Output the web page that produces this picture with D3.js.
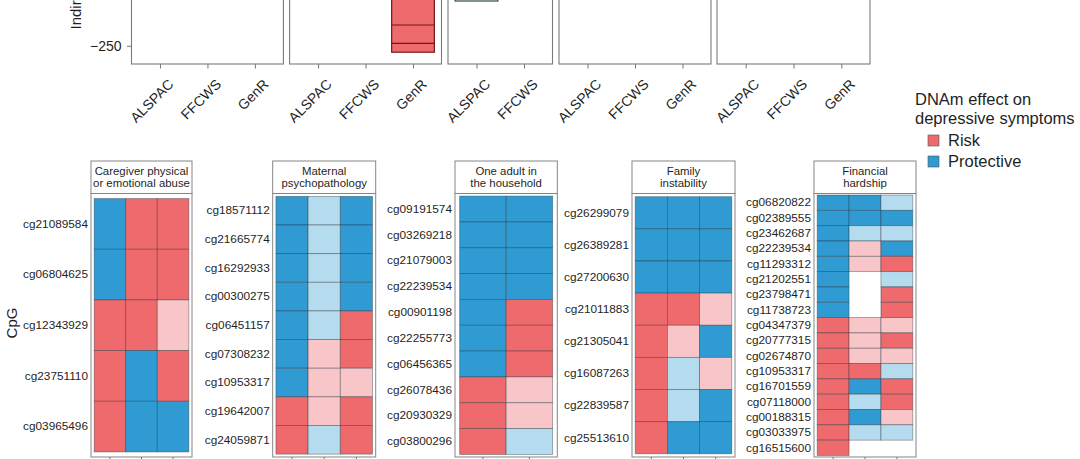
<!DOCTYPE html>
<html>
<head>
<meta charset="utf-8">
<script src="https://cdn.jsdelivr.net/npm/d3@7"></script>
<style>
body { margin: 0; background: #fff; }
svg { display: block; }
text { font-family: "Liberation Sans", Arial, sans-serif; fill: #1f1f1f; }
.tick line { stroke: #777; }
</style>
</head>
<body>
<script>
// cohorts and facets
var cohorts = ["ALSPAC", "FFCWS", "GenR"];
var topFacetCohorts = [cohorts, cohorts, ["ALSPAC", "FFCWS"], cohorts, cohorts];

// boxplot pieces still visible at the top edge (indirect effect)
var boxFacet = [1, 2];
var boxCohort = ["GenR", "ALSPAC"];
var boxLow = [-266, -138];
var boxHigh = [-90, -30];
var boxInner = [[-198, -244], []];
var boxType = ["R", "N"];

// heatmap facets: R = risk, r = risk (n.s.), P = protective, p = protective (n.s.), - = missing
var stripTitles = [
  ["Caregiver physical", "or emotional abuse"],
  ["Maternal", "psychopathology"],
  ["One adult in", "the household"],
  ["Family", "instability"],
  ["Financial", "hardship"]
];
var heatCohorts = [cohorts, cohorts, ["ALSPAC", "FFCWS"], cohorts, cohorts];

var abuseCpGs = ["cg21089584", "cg06804625", "cg12343929", "cg23751110", "cg03965496"];
var abuseEffects = ["PRR", "PRR", "RRr", "RPR", "RPP"];

var maternalCpGs = ["cg18571112", "cg21665774", "cg16292933", "cg00300275", "cg06451157",
  "cg07308232", "cg10953317", "cg19642007", "cg24059871"];
var maternalEffects = ["PpP", "PpP", "PpP", "PpP", "PpR", "PrR", "Prr", "RrR", "RpR"];

var oneAdultCpGs = ["cg09191574", "cg03269218", "cg21079003", "cg22239534", "cg00901198",
  "cg22255773", "cg06456365", "cg26078436", "cg20930329", "cg03800296"];
var oneAdultEffects = ["PP", "PP", "PP", "PP", "PR", "PR", "PR", "Rr", "Rr", "Rp"];

var familyCpGs = ["cg26299079", "cg26389281", "cg27200630", "cg21011883", "cg21305041",
  "cg16087263", "cg22839587", "cg25513610"];
var familyEffects = ["PPP", "PPP", "PPP", "RRr", "RrP", "Rpr", "RpP", "RPP"];

var financialCpGs = ["cg06820822", "cg02389555", "cg23462687", "cg22239534", "cg11293312",
  "cg21202551", "cg23798471", "cg11738723", "cg04347379", "cg20777315", "cg02674870",
  "cg10953317", "cg16701559", "cg07118000", "cg00188315", "cg03033975", "cg16515600"];
var financialEffects = ["PPp", "PPP", "Ppp", "PrP", "PrR", "P-p", "P-R", "P-R", "Rrr", "RrR",
  "Rrr", "RRp", "RPR", "RpR", "RPr", "Rpp", "R--"];

var legendLabels = ["Risk", "Protective"];
var legendCodes = ["R", "P"];

var facetCpGs = [abuseCpGs, maternalCpGs, oneAdultCpGs, familyCpGs, financialCpGs];
var facetEffects = [abuseEffects, maternalEffects, oneAdultEffects, familyEffects, financialEffects];

var fill = d3.scaleOrdinal()
  .domain(["R", "r", "P", "p", "N"])
  .range(["#ee6a6c", "#f8c5c8", "#2f9bd2", "#b5dbee", "#ffffff"]);

var width = 1080, height = 459;

var svg = d3.select("body").append("svg")
  .attr("width", width)
  .attr("height", height);

// ---------- top row: boxplot facets (cut off) ----------
var topRanges = [[131.5, 283.4], [289.6, 441.5], [448, 552.5], [559, 711], [717, 870]];
var topBottom = 64;

var yTop = d3.scaleLinear()
  .domain([-250, 0])
  .range([45.8, -54.2]);

topRanges.forEach(function(r, i) {
  var x = d3.scalePoint()
    .domain(topFacetCohorts[i])
    .range(r)
    .padding(0.6);

  var g = svg.append("g");

  // boxes in this facet
  boxFacet.forEach(function(f, j) {
    if (f !== i) return;
    var bw = x.step() * 0.9;
    var cx = x(boxCohort[j]);
    var dark = boxType[j] === "R" ? "#6e1a1a" : "#2f4a4a";
    g.append("rect")
      .attr("x", cx - bw / 2)
      .attr("width", bw)
      .attr("y", yTop(boxHigh[j]))
      .attr("height", yTop(boxLow[j]) - yTop(boxHigh[j]))
      .attr("fill", fill(boxType[j]))
      .attr("stroke", dark)
      .attr("stroke-width", 1.2);
    boxInner[j].forEach(function(v) {
      g.append("line")
        .attr("x1", cx - bw / 2).attr("x2", cx + bw / 2)
        .attr("y1", yTop(v)).attr("y2", yTop(v))
        .attr("stroke", dark)
        .attr("stroke-width", 1.2);
    });
  });

  g.append("rect")
    .attr("x", r[0])
    .attr("y", -10)
    .attr("width", r[1] - r[0])
    .attr("height", topBottom + 10)
    .attr("fill", "none")
    .attr("stroke", "#7a7a7a")
    .attr("stroke-width", 1.1);

  var ax = g.append("g")
    .attr("transform", "translate(0," + topBottom + ")")
    .call(d3.axisBottom(x).tickSize(4.5));
  ax.select(".domain").remove();
  ax.selectAll("text")
    .attr("y", 0)
    .attr("font-size", 14)
    .attr("text-anchor", "end")
    .attr("transform", "translate(7,14) rotate(-45)");

  if (i === 0) {
    var ay = g.append("g")
      .attr("transform", "translate(" + r[0] + ",0)")
      .call(d3.axisLeft(yTop).tickValues([-250]).tickSize(4.5).tickPadding(5.5));
    ay.select(".domain").remove();
    ay.selectAll("text").attr("font-size", 14);
  }
});

svg.append("text")
  .attr("transform", "translate(81,29.5) rotate(-90)")
  .attr("font-size", 15)
  .text("Indirect effect");

// ---------- legend ----------
var legend = svg.append("g").attr("transform", "translate(915,0)");
legend.append("text").attr("y", 105).attr("font-size", 16.5).text("DNAm effect on");
legend.append("text").attr("y", 123.5).attr("font-size", 16.5).text("depressive symptoms");
legendLabels.forEach(function(lab, i) {
  legend.append("rect")
    .attr("x", 13).attr("y", 135 + i * 21)
    .attr("width", 11).attr("height", 11)
    .attr("fill", fill(legendCodes[i]))
    .attr("stroke", "#555")
    .attr("stroke-width", 0.6);
  legend.append("text")
    .attr("x", 33).attr("y", 145.5 + i * 21)
    .attr("font-size", 16.5)
    .text(lab);
});

// ---------- bottom row: heatmap facets ----------
var heatRanges = [[91, 192], [272.7, 375.7], [455, 557.3], [632, 735], [814, 916]];
var stripTop = 161, panelTop = 193.5, panelBottom = 457;

heatRanges.forEach(function(r, i) {
  var cpgs = facetCpGs[i];
  var eff = facetEffects[i];

  var x = d3.scaleBand()
    .domain(heatCohorts[i])
    .range(r)
    .paddingInner(0)
    .paddingOuter(0.1);
  var y = d3.scaleBand()
    .domain(cpgs)
    .range([panelTop, panelBottom])
    .paddingInner(0)
    .paddingOuter(0.1);

  var cells = [];
  cpgs.forEach(function(c, ri) {
    heatCohorts[i].forEach(function(k, ci) {
      var code = eff[ri].charAt(ci);
      if (code !== "-") cells.push({cpg: c, cohort: k, code: code});
    });
  });

  var g = svg.append("g");

  g.selectAll(".cell")
    .data(cells)
    .enter().append("rect")
    .attr("class", "cell")
    .attr("x", function(d) { return x(d.cohort); })
    .attr("y", function(d) { return y(d.cpg); })
    .attr("width", x.bandwidth())
    .attr("height", y.bandwidth())
    .attr("fill", function(d) { return fill(d.code); })
    .attr("stroke", "#1e2a33")
    .attr("stroke-opacity", 0.45)
    .attr("stroke-width", 0.8);

  // panel border
  g.append("rect")
    .attr("x", r[0]).attr("y", panelTop)
    .attr("width", r[1] - r[0]).attr("height", panelBottom - panelTop)
    .attr("fill", "none")
    .attr("stroke", "#858585")
    .attr("stroke-width", 1);

  // strip
  g.append("rect")
    .attr("x", r[0]).attr("y", stripTop)
    .attr("width", r[1] - r[0]).attr("height", panelTop - stripTop)
    .attr("fill", "#fff")
    .attr("stroke", "#858585")
    .attr("stroke-width", 1);
  stripTitles[i].forEach(function(line, li) {
    g.append("text")
      .attr("x", (r[0] + r[1]) / 2)
      .attr("y", 175 + li * 12)
      .attr("text-anchor", "middle")
      .attr("font-size", 11.4)
      .text(line);
  });

  var ay = g.append("g")
    .attr("transform", "translate(" + r[0] + ",0)")
    .call(d3.axisLeft(y).tickSize(0).tickPadding(3));
  ay.select(".domain").remove();
  ay.selectAll("text").attr("font-size", 11.8);

  var ax = g.append("g")
    .attr("transform", "translate(0," + panelBottom + ")")
    .call(d3.axisBottom(x).tickSize(3.5).tickFormat(""));
  ax.select(".domain").remove();
});

svg.append("text")
  .attr("transform", "translate(16.5,323) rotate(-90)")
  .attr("text-anchor", "middle")
  .attr("font-size", 15)
  .text("CpG");
</script>
</body>
</html>
